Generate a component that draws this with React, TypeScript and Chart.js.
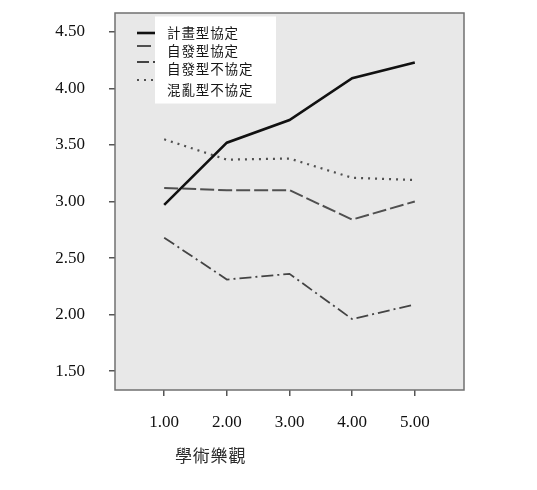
import React, { useEffect, useRef } from "react";
import { Chart, registerables } from "chart.js";

Chart.register(...registerables);

const categories = [1, 2, 3, 4, 5];
const seriesNames = ["計畫型協定", "自發型協定", "自發型不協定", "混亂型不協定"];
const planned = [2.97, 3.52, 3.72, 4.09, 4.23];
const spontaneous = [3.12, 3.1, 3.1, 2.84, 3.0];
const spontaneousDis = [2.68, 2.31, 2.36, 1.96, 2.09];
const chaotic = [3.55, 3.37, 3.38, 3.21, 3.19];
const yTicks = [1.5, 2.0, 2.5, 3.0, 3.5, 4.0, 4.5];
const xTitle = "學術樂觀";

const styles = [
  { color: "#111111", width: 2.6, dash: [] as number[] },
  { color: "#505050", width: 2, dash: [14, 4] },
  { color: "#444444", width: 1.8, dash: [12, 4, 2, 4] },
  { color: "#505050", width: 2.2, dash: [2, 5] },
];

const allSeries = [planned, spontaneous, spontaneousDis, chaotic];

export default function App() {
  const ref = useRef<HTMLCanvasElement | null>(null);
  useEffect(() => {
    if (!ref.current) return;
    const decor = {
      id: "decor",
      beforeDraw(chart: any) {
        const { ctx, chartArea } = chart;
        ctx.save();
        ctx.fillStyle = "#e8e8e8";
        ctx.fillRect(chartArea.left, chartArea.top, chartArea.right - chartArea.left, chartArea.bottom - chartArea.top);
        ctx.restore();
      },
      afterDraw(chart: any) {
        const { ctx, chartArea } = chart;
        ctx.save();
        ctx.strokeStyle = "#707070";
        ctx.lineWidth = 1.5;
        ctx.strokeRect(chartArea.left, chartArea.top, chartArea.right - chartArea.left, chartArea.bottom - chartArea.top);
        const sampleY = [33, 46, 62, 80];
        const textY = [33, 51, 69, 90];
        styles.forEach((s, i) => {
          ctx.beginPath();
          ctx.strokeStyle = s.color;
          ctx.lineWidth = s.width;
          ctx.setLineDash(s.dash);
          ctx.moveTo(137, sampleY[i]);
          ctx.lineTo(156, sampleY[i]);
          ctx.stroke();
        });
        ctx.setLineDash([]);
        ctx.fillStyle = "#ffffff";
        ctx.fillRect(155, 16.5, 121, 87);
        ctx.fillStyle = "#151515";
        ctx.font = "13.5px 'Noto Sans CJK TC'";
        ctx.textBaseline = "middle";
        ctx.textAlign = "left";
        seriesNames.forEach((name, i) => {
          let x = 167;
          for (const ch of name) {
            ctx.fillText(ch, x, textY[i]);
            x += 14.4;
          }
        });
        ctx.fillStyle = "#2a2a2a";
        ctx.font = "17px 'Noto Sans CJK TC'";
        ctx.textAlign = "left";
        let tx = 175;
        for (const ch of xTitle) {
          ctx.fillText(ch, tx, 456);
          tx += 17.8;
        }
        ctx.restore();
      },
    };
    const chart = new Chart(ref.current, {
      type: "line",
      data: {
        datasets: allSeries.map((vals, i) => ({
          label: seriesNames[i],
          data: vals.map((v, j) => ({ x: categories[j], y: v })),
          borderColor: styles[i].color,
          borderWidth: styles[i].width,
          borderDash: styles[i].dash,
          pointRadius: 0,
          tension: 0,
          fill: false,
        })),
      },
      options: {
        responsive: false,
        animation: false,
        layout: { padding: { left: 0, top: 13, right: 73, bottom: 0 } },
        plugins: { legend: { display: false }, tooltip: { enabled: false } },
        scales: {
          x: {
            type: "linear",
            min: 0.215,
            max: 5.785,
            afterBuildTicks: (axis: any) => {
              axis.ticks = categories.map((v) => ({ value: v }));
            },
            afterFit: (axis: any) => {
              axis.height = 100;
              axis.paddingLeft = 0;
              axis.paddingRight = 0;
            },
            grid: { drawOnChartArea: false, drawTicks: true, tickLength: 6, color: "#555555", lineWidth: 1.5 },
            border: { display: false },
            ticks: {
              padding: 16,
              color: "#111111",
              font: { family: "'Liberation Serif'", size: 17 },
              maxRotation: 0,
              callback: (v: any) => Number(v).toFixed(2),
            },
          },
          y: {
            type: "linear",
            min: 1.333,
            max: 4.667,
            afterBuildTicks: (axis: any) => {
              axis.ticks = yTicks.map((v) => ({ value: v }));
            },
            afterFit: (axis: any) => {
              axis.width = 115;
              axis.paddingTop = 0;
              axis.paddingBottom = 0;
            },
            grid: { drawOnChartArea: false, drawTicks: true, tickLength: 6, color: "#555555", lineWidth: 1.5 },
            border: { display: false },
            ticks: {
              padding: 24,
              color: "#111111",
              font: { family: "'Liberation Serif'", size: 17 },
              callback: (v: any) => Number(v).toFixed(2),
            },
          },
        },
      },
      plugins: [decor],
    } as any);
    return () => chart.destroy();
  }, []);
  return (
    <div style={{ position: "absolute", left: 0, top: 0, width: 537, height: 490, background: "#ffffff" }}>
      <canvas ref={ref} width={537} height={490} />
    </div>
  );
}
